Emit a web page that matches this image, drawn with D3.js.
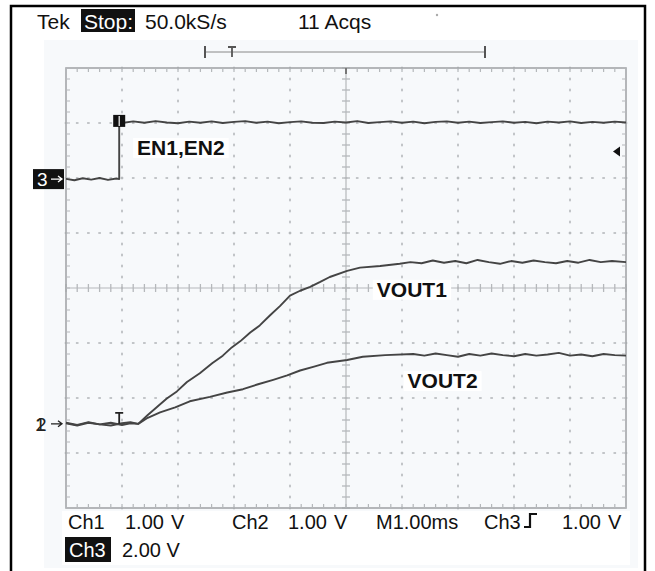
<!DOCTYPE html>
<html>
<head>
<meta charset="utf-8">
<script src="https://cdn.jsdelivr.net/npm/d3@7"></script>
<style>
  body { margin: 0; background: #fff; }
  svg { display: block; font-family: "Liberation Sans", Arial, Helvetica, sans-serif; }
</style>
</head>
<body>
<svg id="scope" width="655" height="571"></svg>
<script>
// Horizontal: 10 divisions at 1.00 ms/div. Vertical: 8 divisions.
const timeDomain = [0, 10];
const divDomain = [-4, 4];

// Channel settings (volts per division, ground reference in divisions from centre)
const ch12VoltsPerDiv = 1.0;
const ch3VoltsPerDiv = 2.0;
const ch12GroundDiv = -2.47;
const ch3GroundDiv = 1.98;
const ch3TriggerLevel = 1.0;

// Ch3: EN1,EN2 enable signal (V vs ms)
const enTime = [0, 0.15, 0.3, 0.45, 0.6, 0.75, 0.9, 0.95, 0.95, 1.0, 1.2, 1.4, 1.6, 1.8, 2.0, 2.2, 2.4,
  2.6, 2.8, 3.0, 3.2, 3.4, 3.6, 3.8, 4.0, 4.2, 4.4, 4.6, 4.8, 5.0, 5.2, 5.4, 5.6, 5.8, 6.0, 6.2, 6.4,
  6.6, 6.8, 7.0, 7.2, 7.4, 7.6, 7.8, 8.0, 8.2, 8.4, 8.6, 8.8, 9.0, 9.2, 9.4, 9.6, 9.8, 10];
const enVolts = [0.01, -0.04, 0.03, -0.02, 0.04, -0.03, 0.02, 0.0, 2.08, 2.04, 2.10, 2.05, 2.11, 2.06,
  2.03, 2.09, 2.05, 2.10, 2.04, 2.08, 2.11, 2.05, 2.09, 2.03, 2.07, 2.10, 2.05, 2.04, 2.09, 2.06, 2.11,
  2.04, 2.07, 2.10, 2.05, 2.09, 2.03, 2.08, 2.10, 2.05, 2.09, 2.04, 2.07, 2.10, 2.05, 2.08, 2.03, 2.09,
  2.06, 2.10, 2.04, 2.08, 2.05, 2.09, 2.06];

// Ch1: VOUT1 (V vs ms)
const vout1Time = [0, 0.2, 0.4, 0.6, 0.8, 1.0, 1.15, 1.29, 1.46, 1.63, 1.80, 1.98, 2.16, 2.39, 2.61, 2.80,
  2.96, 3.11, 3.29, 3.46, 3.64, 3.82, 4.00, 4.18, 4.36, 4.54, 4.71, 5.02, 5.25, 5.61, 5.96, 6.15, 6.35,
  6.55, 6.75, 6.95, 7.15, 7.35, 7.55, 7.75, 7.95, 8.15, 8.35, 8.55, 8.75, 8.95, 9.15, 9.35, 9.55, 9.75,
  10];
const vout1Volts = [0.02, -0.02, 0.03, -0.01, -0.03, 0.01, 0.03, 0.0, 0.16, 0.31, 0.46, 0.59, 0.76, 0.92,
  1.10, 1.24, 1.39, 1.50, 1.66, 1.79, 1.97, 2.14, 2.33, 2.42, 2.49, 2.58, 2.67, 2.78, 2.84, 2.87, 2.91,
  2.94, 2.92, 2.97, 2.93, 2.96, 2.92, 2.98, 2.94, 2.91, 2.96, 2.93, 2.97, 2.94, 2.92, 2.96, 2.93, 2.98,
  2.94, 2.96, 2.94];

// Ch2: VOUT2 (V vs ms)
const vout2Time = [0, 0.2, 0.4, 0.6, 0.8, 1.0, 1.15, 1.29, 1.46, 1.68, 1.95, 2.21, 2.57, 2.88, 3.16, 3.43,
  3.70, 3.95, 4.18, 4.43, 4.66, 5.02, 5.30, 5.70, 6.20, 6.40, 6.60, 6.80, 7.00, 7.20, 7.40, 7.60, 7.80,
  8.00, 8.20, 8.40, 8.60, 8.80, 9.00, 9.20, 9.40, 9.60, 9.80, 10];
const vout2Volts = [0.01, -0.03, 0.02, -0.01, 0.02, -0.02, 0.01, 0.0, 0.11, 0.21, 0.30, 0.41, 0.49, 0.57,
  0.63, 0.72, 0.80, 0.88, 0.97, 1.04, 1.11, 1.16, 1.22, 1.25, 1.27, 1.24, 1.28, 1.25, 1.22, 1.27, 1.24,
  1.28, 1.25, 1.23, 1.27, 1.24, 1.26, 1.29, 1.24, 1.26, 1.23, 1.27, 1.25, 1.24];

// Readout text
const headerLabels = [
  { text: "Tek", x: 37 },
  { text: "50.0kS/s", x: 145 },
  { text: "11 Acqs", x: 298 }
];
const statusLabels = [
  { text: "Ch1", x: 68 }, { text: "1.00", x: 125 }, { text: "V", x: 171 },
  { text: "Ch2", x: 232 }, { text: "1.00", x: 288 }, { text: "V", x: 334 },
  { text: "M1.00ms", x: 376 }, { text: "Ch3", x: 484 },
  { text: "1.00", x: 562 }, { text: "V", x: 608 }
];
const traceLabels = [
  { text: "EN1,EN2", ch: 3, t: 1.27, v: 0.88 },
  { text: "VOUT1", ch: 1, t: 5.55, v: 2.31 },
  { text: "VOUT2", ch: 1, t: 6.1, v: 0.65 }
];

const svg = d3.select("#scope");
const x = d3.scaleLinear().domain(timeDomain).range([66, 626]);
const y = d3.scaleLinear().domain(divDomain).range([508, 68]);
const yCh12 = v => y(ch12GroundDiv + v / ch12VoltsPerDiv);
const yCh3 = v => y(ch3GroundDiv + v / ch3VoltsPerDiv);

// outer frame and faint screen tint
svg.append("rect").attr("x", 0).attr("y", 0).attr("width", 655).attr("height", 571).attr("fill", "#fff");
svg.append("rect").attr("x", 44).attr("y", 40).attr("width", 594).attr("height", 528).attr("fill", "#f7f9fb");
svg.append("rect").attr("x", 11).attr("y", 6).attr("width", 634).attr("height", 580)
  .attr("fill", "none").attr("stroke", "#000").attr("stroke-width", 2.5);

// graticule
const grid = svg.append("g");
const gridColor = "#b5b8bb";
const minorX = d3.range(0, 10.001, 0.2);
const minorY = d3.range(-4, 4.001, 0.2);
const majorX = d3.range(1, 10);
const majorY = d3.range(-3, 4);

// dotted division lines
majorX.filter(d => d !== 5).forEach(d => {
  grid.selectAll(null).data(minorY).join("rect")
    .attr("x", x(d) - 0.8).attr("y", v => y(v) - 1.3).attr("width", 1.6).attr("height", 2.6)
    .attr("fill", gridColor);
});
majorY.filter(d => d !== 0).forEach(d => {
  grid.selectAll(null).data(minorX).join("rect")
    .attr("x", t => x(t) - 1.3).attr("y", y(d) - 0.8).attr("width", 2.6).attr("height", 1.6)
    .attr("fill", gridColor);
});

// centre cross with minor ticks
grid.append("line").attr("x1", x(5)).attr("x2", x(5)).attr("y1", y(4)).attr("y2", y(-4))
  .attr("stroke", gridColor).attr("stroke-width", 1.2);
grid.append("line").attr("x1", x(0)).attr("x2", x(10)).attr("y1", y(0)).attr("y2", y(0))
  .attr("stroke", gridColor).attr("stroke-width", 1.2);
grid.selectAll(null).data(minorY).join("line")
  .attr("x1", x(5) - 4).attr("x2", x(5) + 4).attr("y1", d => y(d)).attr("y2", d => y(d))
  .attr("stroke", gridColor).attr("stroke-width", 1.3);
grid.selectAll(null).data(minorX).join("line")
  .attr("x1", d => x(d)).attr("x2", d => x(d)).attr("y1", y(0) - 4).attr("y2", y(0) + 4)
  .attr("stroke", gridColor).attr("stroke-width", 1.3);

// border with inward ticks
grid.append("rect").attr("x", x(0)).attr("y", y(4)).attr("width", x(10) - x(0)).attr("height", y(-4) - y(4))
  .attr("fill", "none").attr("stroke", "#a3a6a9").attr("stroke-width", 1.6);
grid.selectAll(null).data(minorX).join("path")
  .attr("d", d => `M${x(d)},${y(4)}v4M${x(d)},${y(-4)}v-4`)
  .attr("stroke", gridColor).attr("stroke-width", 1.2);
grid.selectAll(null).data(minorY).join("path")
  .attr("d", d => `M${x(0)},${y(d)}h4M${x(10)},${y(d)}h-4`)
  .attr("stroke", gridColor).attr("stroke-width", 1.2);

// record bracket with trigger position
const rec = svg.append("g").attr("stroke", "#555").attr("fill", "none");
rec.append("line").attr("x1", 205).attr("x2", 485).attr("y1", 52).attr("y2", 52).attr("stroke-width", 1).attr("stroke", "#888");
rec.append("path").attr("d", "M205,46v12M485,46v12").attr("stroke-width", 2);
rec.append("path").attr("d", "M228,47h8M232,47v10").attr("stroke-width", 1.8);
svg.append("path").attr("d", `M${x(5)},${y(4)}v6`).attr("stroke", "#777").attr("stroke-width", 2);
svg.append("circle").attr("cx", 437).attr("cy", 15).attr("r", 1.2).attr("fill", "#aaa");

// traces
const trace = (ts, vs, yf) => d3.line().x(i => x(ts[i])).y(i => yf(vs[i]))(d3.range(ts.length));
[[enTime, enVolts, yCh3], [vout1Time, vout1Volts, yCh12], [vout2Time, vout2Volts, yCh12]].forEach(([ts, vs, yf]) => {
  svg.append("path").attr("d", trace(ts, vs, yf))
    .attr("fill", "none").attr("stroke", "#444").attr("stroke-width", 1.9).attr("stroke-linejoin", "round");
});

// markers on the traces
const stepX = x(enTime[7]), stepY = yCh3(enVolts[8]);
svg.append("rect").attr("x", stepX - 6).attr("y", stepY - 7).attr("width", 12).attr("height", 12).attr("fill", "#111");
svg.append("line").attr("x1", stepX).attr("x2", stepX).attr("y1", stepY - 6).attr("y2", stepY + 4)
  .attr("stroke", "#fff").attr("stroke-width", 1.2);
const baseY = yCh12(0);
svg.append("path").attr("d", `M${stepX - 4},${baseY - 11}h8M${stepX},${baseY - 11}v11`)
  .attr("stroke", "#222").attr("stroke-width", 1.8).attr("fill", "none");
const trigY = yCh3(ch3TriggerLevel);
svg.append("path").attr("d", `M${x(10) - 13},${trigY}l7,-5v10z`).attr("fill", "#111");

// channel ground markers
svg.append("rect").attr("x", 33).attr("y", yCh3(0) - 10).attr("width", 31).attr("height", 20).attr("fill", "#111");
svg.append("text").attr("x", 37).attr("y", yCh3(0) + 7).attr("fill", "#fff").attr("font-size", 19).text("3");
svg.append("path").attr("d", `M51,${yCh3(0)}h11m-4,-3l4,3l-4,3`).attr("stroke", "#fff").attr("stroke-width", 1.3).attr("fill", "none");
svg.append("text").attr("x", 35).attr("y", baseY + 7).attr("fill", "#222").attr("font-size", 19).text("1");
svg.append("text").attr("x", 36).attr("y", baseY + 7).attr("fill", "#222").attr("font-size", 19).text("2");
svg.append("path").attr("d", `M51,${baseY}h11m-4,-3l4,3l-4,3`).attr("stroke", "#222").attr("stroke-width", 1.3).attr("fill", "none");

// trace labels
traceLabels.forEach(l => {
  const ly = l.ch === 3 ? yCh3(l.v) : yCh12(l.v);
  const t = svg.append("text").attr("x", x(l.t)).attr("y", ly).attr("font-size", 21)
    .attr("font-weight", "bold").attr("fill", "#111").text(l.text);
  const b = t.node().getBBox();
  svg.insert("rect", () => t.node()).attr("x", b.x - 4).attr("y", b.y + 2).attr("width", b.width + 8)
    .attr("height", b.height - 3).attr("fill", "#fff");
});

// header readout
svg.append("rect").attr("x", 30).attr("y", 8).attr("width", 360).attr("height", 28).attr("fill", "#fff");
headerLabels.forEach(l => svg.append("text").attr("x", l.x).attr("y", 29).attr("font-size", 21).attr("fill", "#111").text(l.text));
svg.append("rect").attr("x", 81).attr("y", 9).attr("width", 54).attr("height", 23).attr("fill", "#111");
svg.append("text").attr("x", 84).attr("y", 29).attr("font-size", 21).attr("fill", "#fff").text("Stop:");

// status readout
svg.append("rect").attr("x", 62).attr("y", 511).attr("width", 568).attr("height", 54).attr("fill", "#fff");
statusLabels.forEach(l => svg.append("text").attr("x", l.x).attr("y", 529).attr("font-size", 20).attr("fill", "#111").text(l.text));
svg.append("path").attr("d", "M524,527h6v-13h7").attr("stroke", "#111").attr("stroke-width", 2.2).attr("fill", "none");
svg.append("rect").attr("x", 65).attr("y", 537).attr("width", 46).attr("height", 25).attr("fill", "#111");
svg.append("text").attr("x", 69).attr("y", 557).attr("font-size", 20).attr("fill", "#fff").text("Ch3");
svg.append("text").attr("x", 122).attr("y", 557).attr("font-size", 20).attr("fill", "#111").text("2.00 V");
</script>
</body>
</html>
